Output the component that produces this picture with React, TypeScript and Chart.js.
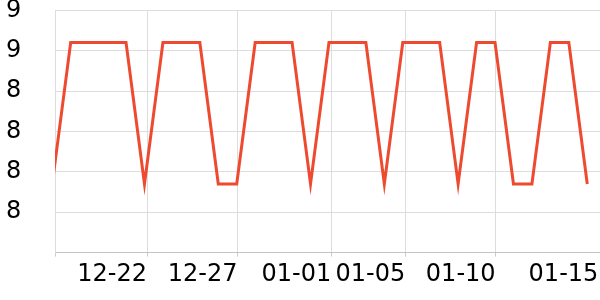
import React, { useEffect, useRef } from "react";
import { Chart, registerables } from "chart.js";

Chart.register(...registerables);

const dates = [
  "12-17", "12-18", "12-19", "12-20", "12-21", "12-22", "12-23", "12-24", "12-25", "12-26",
  "12-27", "12-28", "12-29", "12-30", "12-31", "01-01", "01-02", "01-03", "01-04", "01-05",
  "01-06", "01-07", "01-08", "01-09", "01-10", "01-11", "01-12", "01-13", "01-14", "01-15",
];
const values = [
  8.67, 9.02, 9.02, 9.02, 9.02, 8.67, 9.02, 9.02, 9.02, 8.67,
  8.67, 9.02, 9.02, 9.02, 8.67, 9.02, 9.02, 9.02, 8.67, 9.02,
  9.02, 9.02, 8.67, 9.02, 9.02, 8.67, 8.67, 9.02, 9.02, 8.67,
];
const xMin = 0.15;
const xMax = 29.69;
const xTickValues = [0.15, 5.14, 10.04, 15.12, 19.13, 24.03, 29.6];
const xTickLabels = ["", "12-22", "12-27", "01-01", "01-05", "01-10", "01-15"];
const yTickValues = [8.5, 8.6, 8.7, 8.8, 8.9, 9.0, 9.1];
const yTickLabels = ["", "8", "8", "8", "8", "9", "9"];

export default function App() {
  const ref = useRef<HTMLCanvasElement>(null);
  useEffect(() => {
    document.body.style.margin = "0";
    const canvas = ref.current;
    if (!canvas) return;
    const lastX = xTickValues.length - 1;
    const chart = new Chart(canvas, {
      type: "line",
      data: {
        datasets: [
          {
            label: "value",
            data: values.map((v, i) => ({ x: i, y: v })),
            borderColor: "#ee4a2f",
            borderWidth: 3,
            pointRadius: 0,
            tension: 0,
            fill: false,
          },
        ],
      },
      options: {
        animation: false,
        responsive: false,
        layout: { padding: { left: 6, top: 0, right: 0, bottom: 8 } },
        plugins: { legend: { display: false }, tooltip: { enabled: false } },
        scales: {
          x: {
            type: "linear",
            min: xMin,
            max: xMax,
            afterBuildTicks: (s: any) => {
              s.ticks = xTickValues.map((v) => ({ value: v }));
            },
            grid: {
              color: (c: any) => (c.index === lastX ? "rgba(0,0,0,0)" : "#dddddd"),
              tickColor: (c: any) => (c.index === lastX ? "rgba(0,0,0,0)" : "#cccccc"),
              tickLength: 4,
            },
            border: { color: "#c4c4c4" },
            ticks: {
              autoSkip: false,
              maxRotation: 0,
              align: "end",
              padding: 0,
              color: "#000",
              font: { family: "DejaVu Sans", size: 24, lineHeight: 1.475 },
              callback: (v: any, i: number) => xTickLabels[i],
            },
          },
          y: {
            type: "linear",
            min: 8.5,
            max: 9.1,
            afterBuildTicks: (s: any) => {
              s.ticks = yTickValues.map((v) => ({ value: v }));
            },
            afterFit: (s: any) => {
              s.width = 49;
            },
            grid: { color: "#dddddd", tickLength: 0, drawTicks: false },
            border: { color: "#dddddd" },
            ticks: {
              crossAlign: "far",
              padding: 0,
              color: "#000",
              font: { family: "DejaVu Sans", size: 24, lineHeight: 0.86 },
              callback: (v: any, i: number) => yTickLabels[i],
            },
          },
        },
      },
    });
    return () => chart.destroy();
  }, []);
  return (
    <div style={{ width: 600, height: 300 }}>
      <canvas ref={ref} width={600} height={300} />
    </div>
  );
}
